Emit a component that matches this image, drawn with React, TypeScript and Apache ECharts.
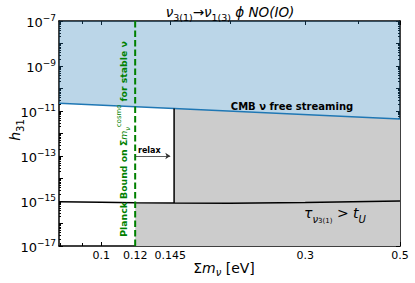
import React, { useEffect, useRef } from 'react';
import * as echarts from 'echarts';

// ---- data (raw values) ----
const X_MIN = 0.0796;
const X_MAX = 0.5;
const Y_MIN = 1e-17;
const Y_MAX = 1e-7;

const xTickValues = [0.1, 0.12, 0.145, 0.3, 0.5];
const xMinorTickValues = [0.08, 0.09, 0.2, 0.4];
const yLabelValues = [1e-17, 1e-15, 1e-13, 1e-11, 1e-9, 1e-7];

// CMB free-streaming bound (blue line)
const cmbMass = [0.0796, 0.148, 0.5];
const cmbCoupling = [2.2e-11, 1.28e-11, 4.4e-12];

// lifetime > age of universe bound (black curve)
const lifeMass = [0.0796, 0.1, 0.12, 0.148, 0.2, 0.3, 0.5];
const lifeCoupling = [9.3e-16, 8.9e-16, 8.4e-16, 8.1e-16, 7.9e-16, 8.5e-16, 1.0e-15];

// Planck bound and relaxed bound
const planckMass = 0.12;
const relaxedMass = 0.145;
const relaxArrowCoupling = 1e-13;
const stepMass = 0.148;
const stepLow = 8.1e-16;
const stepHigh = 1.28e-11;

const L = Math.log10;
const FONT = 'DejaVu Sans';

export default function App() {
  const ref = useRef<HTMLDivElement>(null);
  useEffect(() => {
    if (!ref.current) return;
    const chart = echarts.init(ref.current, undefined, { renderer: 'svg' });

    const xMin = L(X_MIN), xMax = L(X_MAX), yMin = L(Y_MIN), yMax = L(Y_MAX);
    const yMajor: number[] = [];
    const yMinor: number[] = [];
    for (let n = Math.round(yMin); n <= Math.round(yMax); n++) {
      yMajor.push(n);
      if (n < yMax) for (let k = 2; k <= 9; k++) yMinor.push(n + L(k));
    }
    const xMajorT = xTickValues.map(L);
    const xMinorT = xMinorTickValues.map(L);

    const cmbData = cmbMass.map((m, i) => [L(m), L(cmbCoupling[i])]);
    const lifeData = lifeMass.map((m, i) => [L(m), L(lifeCoupling[i])]);
    const grayData = [
      ...lifeMass.filter((m) => m >= planckMass && m <= stepMass).map((m) => [L(m), L(lifeCoupling[lifeMass.indexOf(m)])]),
      [L(stepMass), L(stepHigh)],
      ...cmbMass.filter((m) => m > stepMass).map((m) => [L(m), L(cmbCoupling[cmbMass.indexOf(m)])]),
    ];

    const frame = { show: true, onZero: false, lineStyle: { color: '#000', width: 1.5 } };
    const noLine = { show: false };
    const mkX = (pos: string, grid: number, ticks: number[], len: number, labels: boolean, line: boolean) => ({
      type: 'value', gridIndex: grid, position: pos, min: xMin, max: xMax,
      axisLine: line ? frame : noLine,
      splitLine: { show: false },
      axisTick: { show: true, inside: true, length: len, customValues: ticks, lineStyle: { color: '#000', width: 1 } },
      axisLabel: labels
        ? {
            show: true, customValues: xMajorT, margin: 4, color: '#000', fontFamily: FONT, fontSize: 11,
            formatter: (v: number) => {
              let best = xTickValues[0];
              xTickValues.forEach((t) => { if (Math.abs(L(t) - v) < Math.abs(L(best) - v)) best = t; });
              return String(best);
            },
          }
        : { show: false },
    });
    const mkY = (pos: string, grid: number, ticks: number[], len: number, labels: boolean, line: boolean) => ({
      type: 'value', gridIndex: grid, position: pos, min: yMin, max: yMax,
      axisLine: line ? frame : noLine,
      splitLine: { show: false },
      axisTick: { show: true, inside: true, length: len, customValues: ticks, lineStyle: { color: '#000', width: 1 } },
      axisLabel: labels
        ? {
            show: true, customValues: yLabelValues.map(L), margin: 3, color: '#000', fontFamily: FONT,
            formatter: (v: number) => `{b|10}{s|${String(Math.round(v)).replace('-', '−')}}`,
            rich: {
              b: { fontSize: 13, fontFamily: FONT, color: '#000', lineHeight: 16, verticalAlign: 'bottom' },
              s: { fontSize: 9, fontFamily: FONT, color: '#000', lineHeight: 6, verticalAlign: 'top' },
            },
          }
        : { show: false },
    });

    const gridRect = { left: 59, right: 15, top: 21, bottom: 37 };

    const option: any = {
      animation: false,
      grid: [{ ...gridRect }, { ...gridRect }],
      xAxis: [
        mkX('bottom', 0, xMajorT, 4, true, true),
        mkX('top', 0, xMajorT, 4, false, true),
        mkX('bottom', 1, xMinorT, 3, false, false),
        mkX('top', 1, xMinorT, 3, false, false),
      ],
      yAxis: [
        mkY('left', 0, yMajor, 4, true, true),
        mkY('right', 0, yMajor, 4, false, true),
        mkY('left', 1, yMinor, 2, false, false),
        mkY('right', 1, yMinor, 2, false, false),
      ],
      series: [
        {
          type: 'line', name: 'excluded', xAxisIndex: 0, yAxisIndex: 0, data: grayData, symbol: 'none',
          lineStyle: { width: 0, opacity: 0 }, areaStyle: { color: '#cccccc', opacity: 1, origin: 'start' }, z: 1,
        },
        {
          type: 'line', name: 'CMB', xAxisIndex: 0, yAxisIndex: 0, data: cmbData, symbol: 'none',
          lineStyle: { color: '#1f77b4', width: 1.5 }, areaStyle: { color: 'rgba(31,119,180,0.3)', opacity: 1, origin: 'end' }, z: 2,
        },
        {
          type: 'line', name: 'lifetime', xAxisIndex: 0, yAxisIndex: 0, data: lifeData, symbol: 'none',
          lineStyle: { color: '#000', width: 1.5 }, z: 3,
        },
        {
          type: 'line', name: 'step', xAxisIndex: 0, yAxisIndex: 0,
          data: [[L(stepMass), L(stepLow)], [L(stepMass), L(stepHigh)]], symbol: 'none',
          lineStyle: { color: '#000', width: 1.5 }, z: 3,
        },
        {
          type: 'line', name: 'Planck', xAxisIndex: 0, yAxisIndex: 0,
          data: [[L(planckMass), yMin], [L(planckMass), yMax]], symbol: 'none',
          lineStyle: { color: '#008000', width: 2, type: [6.5, 3] }, z: 4,
        },
        {
          type: 'lines', coordinateSystem: 'cartesian2d', xAxisIndex: 0, yAxisIndex: 0,
          data: [{ coords: [[L(planckMass), L(relaxArrowCoupling)], [L(relaxedMass), L(relaxArrowCoupling)]] }],
          symbol: ['none', 'arrow'], symbolSize: 5,
          lineStyle: { color: '#333', width: 0.8, opacity: 1 }, z: 5,
        },
      ],
      graphic: [
        {
          type: 'text', x: 230, y: 12, z: 10,
          style: {
            text: '{v|ν}{s|3(1)}{a|→}{v|ν}{s|1(3)}{a| }{v|ϕ}{a| }{v|NO(IO)}',
            align: 'center', verticalAlign: 'middle', fill: '#000', font: `13.5px ${FONT}`,
            rich: {
              v: { fontSize: 13.5, fontStyle: 'italic', fontFamily: FONT, lineHeight: 20, fill: '#000' },
              a: { fontSize: 13.5, fontFamily: FONT, lineHeight: 20, fill: '#000' },
              s: { fontSize: 9.5, fontFamily: FONT, lineHeight: 11, verticalAlign: 'bottom', fill: '#000' },
            },
          },
        },
        {
          type: 'text', x: 15, y: 130, rotation: Math.PI / 2, z: 10,
          style: {
            text: '{h|h}{s|31}', align: 'center', verticalAlign: 'middle', fill: '#000',
            rich: {
              h: { fontSize: 14, fontStyle: 'italic', fontFamily: FONT, lineHeight: 20, fill: '#000' },
              s: { fontSize: 10, fontFamily: FONT, lineHeight: 11, verticalAlign: 'bottom', fill: '#000' },
            },
          },
        },
        {
          type: 'text', x: 224, y: 268, z: 10,
          style: {
            text: '{a|Σ}{m|m}{s|ν}{a| [eV]}', align: 'center', verticalAlign: 'middle', fill: '#000',
            rich: {
              a: { fontSize: 14, fontFamily: FONT, lineHeight: 18, fill: '#000' },
              m: { fontSize: 14, fontStyle: 'italic', fontFamily: FONT, lineHeight: 18, fill: '#000' },
              s: { fontSize: 10, fontStyle: 'italic', fontFamily: FONT, lineHeight: 10, verticalAlign: 'bottom', fill: '#000' },
            },
          },
        },
        {
          type: 'text', x: 292, y: 106, z: 10,
          style: {
            text: 'CMB ν free streaming', align: 'center', verticalAlign: 'middle', fill: '#000',
            fontSize: 10, fontWeight: 'bold', fontFamily: FONT,
          },
        },
        {
          type: 'text', x: 138, y: 150, z: 10,
          style: {
            text: 'relax', align: 'left', verticalAlign: 'middle', fill: '#000',
            fontSize: 8, fontWeight: 'bold', fontFamily: FONT,
          },
        },
        {
          type: 'text', x: 335, y: 213, z: 10,
          style: {
            text: '{t|τ}{s|ν}{ss|3(1)}{o| > }{t|t}{s|U}', align: 'center', verticalAlign: 'middle', fill: '#000',
            rich: {
              t: { fontSize: 14, fontStyle: 'italic', fontFamily: FONT, lineHeight: 22, fill: '#000' },
              o: { fontSize: 14, fontFamily: FONT, lineHeight: 22, fill: '#000' },
              s: { fontSize: 10, fontStyle: 'italic', fontFamily: FONT, lineHeight: 12, verticalAlign: 'bottom', fill: '#000' },
              ss: { fontSize: 7, fontFamily: FONT, lineHeight: 6, verticalAlign: 'bottom', fill: '#000' },
            },
          },
        },
        {
          type: 'text', x: 123.5, y: 139, rotation: Math.PI / 2, z: 10,
          style: {
            text: '{g|Planck Bound on Σ}{i|m}{s|ν}{u|cosmo}{g| for stable ν}',
            align: 'center', verticalAlign: 'middle', fill: '#008000',
            rich: {
              g: { fontSize: 9.3, fontWeight: 'bold', fontFamily: FONT, lineHeight: 16, fill: '#008000' },
              i: { fontSize: 9.3, fontStyle: 'italic', fontFamily: FONT, lineHeight: 16, fill: '#008000' },
              s: { fontSize: 6.8, fontStyle: 'italic', fontFamily: FONT, lineHeight: 8, verticalAlign: 'bottom', fill: '#008000' },
              u: { fontSize: 6.8, fontFamily: FONT, lineHeight: 6, verticalAlign: 'top', fill: '#008000' },
            },
          },
        },
      ],
    };
    chart.setOption(option);
    return () => chart.dispose();
  }, []);
  return <div ref={ref} style={{ position: 'absolute', left: 0, top: 0, width: 415, height: 283 }} />;
}
